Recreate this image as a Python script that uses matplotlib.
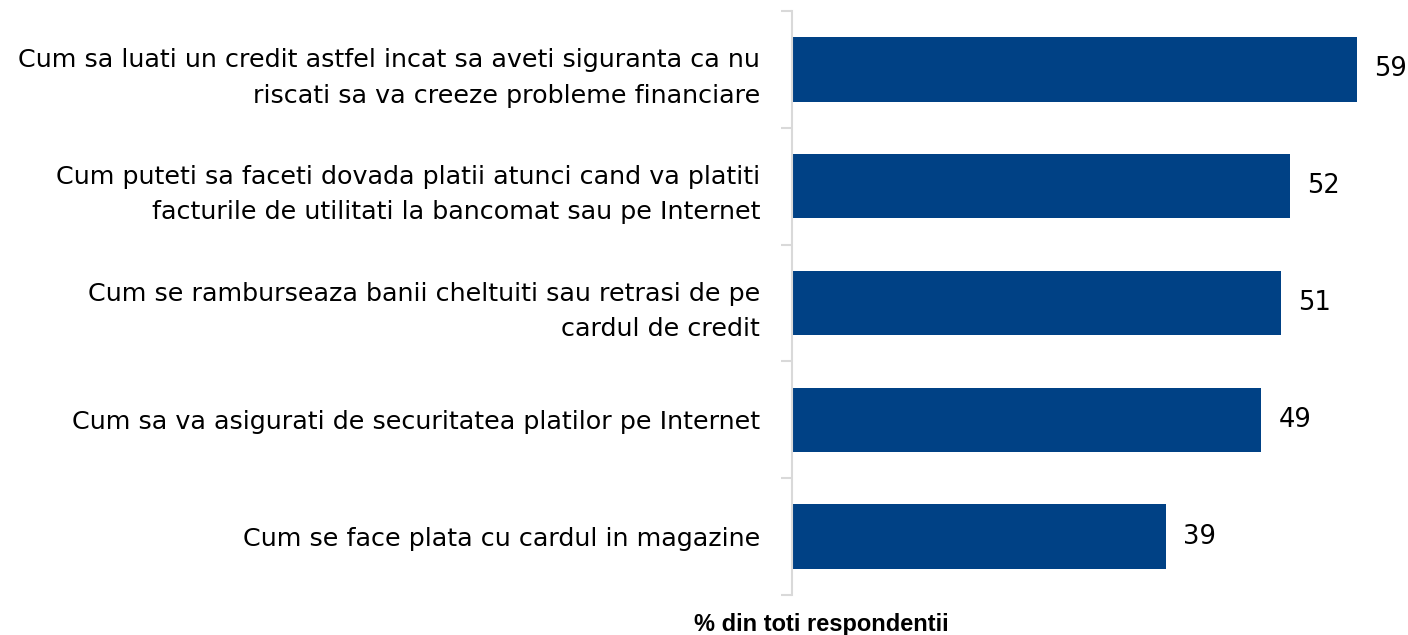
import matplotlib.pyplot as plt
import numpy as np

categories = [
    "Cum sa luati un credit astfel incat sa aveti siguranta ca nu\nriscati sa va creeze probleme financiare",
    "Cum puteti sa faceti dovada platii atunci cand va platiti\nfacturile de utilitati la bancomat sau pe Internet",
    "Cum se ramburseaza banii cheltuiti sau retrasi de pe\ncardul de credit",
    "Cum sa va asigurati de securitatea platilor pe Internet",
    "Cum se face plata cu cardul in magazine",
]
values = [59, 52, 51, 49, 39]

BAR = "#004185"
AXIS = "#d9d9d9"

fig = plt.figure(figsize=(14.08, 6.35), dpi=100)
ax = fig.add_axes([792 / 1408, 1 - 595 / 635, 1 - 792 / 1408, (595 - 11) / 635])

y = np.arange(len(values))
ax.barh(y, values, height=0.55, color=BAR, edgecolor="none")
for yi, v in zip(y, values):
    ax.text(v + 1.8, yi, str(v), va="center", ha="left", fontsize=18.5,
            color="black")

ax.set_xlim(0, 64.3)
ax.set_ylim(len(values) - 0.5, -0.5)
ax.set_yticks(y)
ax.set_yticklabels(categories, fontsize=18.3, linespacing=1.62)
ax.tick_params(axis="y", which="major", length=0, pad=23)
ax.set_yticks(np.arange(-0.5, len(values)), minor=True)
ax.tick_params(axis="y", which="minor", length=8, width=1.5, color=AXIS)
ax.set_xticks([])

for s in ["top", "right", "bottom"]:
    ax.spines[s].set_visible(False)
ax.spines["left"].set_color(AXIS)
ax.spines["left"].set_linewidth(1.5)

fig.text(821 / 1408, 1 - 624 / 635, "% din toti respondentii", ha="center",
         va="center", fontsize=17, fontweight="bold",
         family="Liberation Sans")

fig.savefig("out.png", dpi=100)
